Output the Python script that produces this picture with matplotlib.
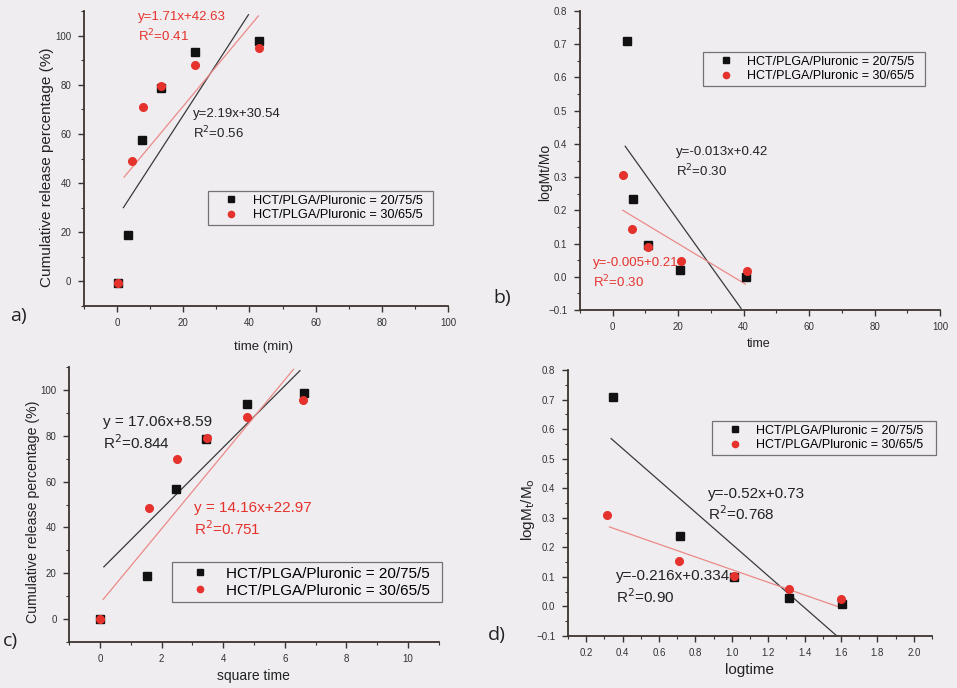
import matplotlib
matplotlib.use("Agg")
import matplotlib.pyplot as plt
from matplotlib.ticker import MultipleLocator
from matplotlib.lines import Line2D

W, H = 957, 688
BG = '#efedf0'
AX = '#3b3330'
BLK = '#111111'
RED = '#e5322c'
LRED = '#ec8a88'
LBLK = '#3a3a3a'

series_names = ['HCT/PLGA/Pluronic = 20/75/5', 'HCT/PLGA/Pluronic = 30/65/5']

# Panel a: release vs time
a_x_black = [0.3, 3.2, 7.6, 13.2, 23.6, 43.0]
a_y_black = [-0.5, 18.7, 57.6, 78.7, 93.2, 97.7]
a_x_red = [0.4, 4.4, 7.9, 13.2, 23.6, 43.0]
a_y_red = [-0.5, 48.9, 70.9, 79.5, 88.0, 94.8]
a_fit_black_x = [1.9, 39.7]
a_fit_black_y = [30.0, 108.5]
a_fit_red_x = [2.1, 42.7]
a_fit_red_y = [42.4, 108.0]

# Panel b: logMt/Mo vs time
b_x_black = [4.3, 6.3, 10.8, 20.6, 40.8]
b_y_black = [0.71, 0.233, 0.096, 0.021, -0.002]
b_x_red = [3.2, 5.8, 10.9, 20.8, 40.9]
b_y_red = [0.306, 0.145, 0.091, 0.048, 0.016]
b_fit_black_x = [3.8, 39.2]
b_fit_black_y = [0.393, -0.095]
b_fit_red_x = [3.1, 40.5]
b_fit_red_y = [0.200, -0.022]

# Panel c: release vs square time
c_x_black = [0.0, 1.52, 2.46, 3.44, 4.77, 6.62]
c_y_black = [0.0, 18.8, 56.6, 78.4, 93.7, 98.6]
c_x_red = [0.0, 1.60, 2.49, 3.46, 4.76, 6.60]
c_y_red = [0.0, 48.6, 69.9, 79.2, 88.3, 95.5]
c_fit_black_x = [0.13, 6.49]
c_fit_black_y = [22.8, 108.4]
c_fit_red_x = [0.11, 6.28]
c_fit_red_y = [8.6, 109.0]

# Panel d: logMt/Mo vs logtime
d_x_black = [0.346, 0.717, 1.011, 1.312, 1.605]
d_y_black = [0.707, 0.238, 0.100, 0.029, 0.009]
d_x_red = [0.313, 0.709, 1.011, 1.312, 1.602]
d_y_red = [0.308, 0.153, 0.104, 0.059, 0.026]
d_fit_black_x = [0.337, 1.574]
d_fit_black_y = [0.568, -0.098]
d_fit_red_x = [0.328, 1.58]
d_fit_red_y = [0.269, 0.0]

FONT = 'Liberation Sans'
plt.rcParams['font.family'] = [FONT, 'DejaVu Sans']

fig = plt.figure(figsize=(W / 100, H / 100), dpi=100, facecolor=BG)


def add_ax(left, top, right, bottom):
    return fig.add_axes([left / W, 1 - bottom / H, (right - left) / W, (bottom - top) / H])


def style(ax, xlim, ylim, xmaj, xmin, ymaj, ymin):
    ax.set_facecolor(BG)
    ax.patch.set_alpha(0)
    ax.set_xlim(*xlim)
    ax.set_ylim(*ylim)
    for s in ('top', 'right'):
        ax.spines[s].set_visible(False)
    for s in ('left', 'bottom'):
        ax.spines[s].set_color(AX)
        ax.spines[s].set_linewidth(1.3)
    ax.xaxis.set_major_locator(MultipleLocator(xmaj))
    ax.xaxis.set_minor_locator(MultipleLocator(xmin))
    ax.yaxis.set_major_locator(MultipleLocator(ymaj))
    ax.yaxis.set_minor_locator(MultipleLocator(ymin))
    ax.tick_params(which='major', direction='out', length=4, width=1, color=AX,
                   labelsize=7, labelcolor='#333333', pad=5)
    ax.tick_params(which='minor', direction='out', length=2, width=0.8, color=AX)


def scatter(ax, xb, yb, xr, yr):
    ax.plot(xb, yb, 's', color=BLK, ms=5.5, mec=BLK, zorder=3, clip_on=False)
    ax.plot(xr, yr, 'o', color=RED, ms=5.5, mec=RED, zorder=4, clip_on=False)


def legend(bbox_px, fs, ms=4.5):
    l, t, r, b = bbox_px
    handles = [Line2D([], [], ls='none', marker='s', color=BLK, ms=ms),
               Line2D([], [], ls='none', marker='o', color=RED, ms=ms)]
    lg = fig.legend(handles, series_names, loc='upper left',
                    bbox_to_anchor=(l / W, 1 - b / H, (r - l) / W, (b - t) / H),
                    bbox_transform=fig.transFigure, mode='expand',
                    fontsize=fs, frameon=True, fancybox=False, numpoints=1,
                    handlelength=3.0, handletextpad=0.25, borderpad=0.3,
                    labelspacing=0.2, borderaxespad=0, edgecolor='#555555')
    lg.get_frame().set_facecolor(BG)
    lg.get_frame().set_linewidth(0.9)
    return lg


def ftext(x, y, s, color='#222222', size=10, **kw):
    fig.text(x / W, 1 - y / H, s, color=color, fontsize=size, **kw)


# ---- Panel a ----
ax = add_ax(84, 11, 448, 306)
style(ax, (-10, 100), (-10, 110), 20, 10, 20, 10)
ax.plot(a_fit_black_x, a_fit_black_y, color=LBLK, lw=0.9)
ax.plot(a_fit_red_x, a_fit_red_y, color=LRED, lw=0.9)
scatter(ax, a_x_black, a_y_black, a_x_red, a_y_red)
legend((208, 191, 433, 229), 9.2)
ftext(138, 17, 'y=1.71x+42.63', color=RED, size=9.5, va='center')
ftext(138, 36, 'R$^2$=0.41', color=RED, size=9.5, va='center')
ftext(193, 114, 'y=2.19x+30.54', size=9.5, va='center')
ftext(193, 133, 'R$^2$=0.56', size=9.5, va='center')
ftext(263, 347, 'time (min)', size=9.5, ha='center', va='center')
ftext(47, 167, 'Cumulative release percentage (%)', size=11, ha='center', va='center', rotation=90)
ftext(18, 316, 'a)', size=14, ha='center', va='center', family='Open Sans')

# ---- Panel b ----
ax = add_ax(580, 11, 940, 310)
style(ax, (-10, 100), (-0.1, 0.8), 20, 10, 0.1, 0.05)
ax.plot(b_fit_black_x, b_fit_black_y, color=LBLK, lw=0.9)
ax.plot(b_fit_red_x, b_fit_red_y, color=LRED, lw=0.9)
scatter(ax, b_x_black, b_y_black, b_x_red, b_y_red)
legend((703, 52, 925, 88), 9.0)
ftext(676, 152, 'y=-0.013x+0.42', size=9.5, va='center')
ftext(676, 171, 'R$^2$=0.30', size=9.5, va='center')
ftext(593, 263, 'y=-0.005+0.21', color=RED, size=9.5, va='center')
ftext(593, 282, 'R$^2$=0.30', color=RED, size=9.5, va='center')
ftext(759, 344, 'time', size=9, ha='center', va='center')
ftext(545, 172, 'logMt/Mo', size=10, ha='center', va='center', rotation=90)
ftext(502, 298, 'b)', size=14, ha='center', va='center', family='Open Sans')

# ---- Panel c ----
ax = add_ax(69, 367, 439, 642)
style(ax, (-1, 11), (-10, 110), 2, 1, 20, 10)
ax.plot(c_fit_black_x, c_fit_black_y, color=LBLK, lw=0.9)
ax.plot(c_fit_red_x, c_fit_red_y, color=LRED, lw=0.9)
scatter(ax, c_x_black, c_y_black, c_x_red, c_y_red)
legend((172, 562, 442, 604), 11)
ftext(103, 422, 'y = 17.06x+8.59', size=11, va='center')
ftext(103, 443, 'R$^2$=0.844', size=11, va='center')
ftext(194, 508, 'y = 14.16x+22.97', color=RED, size=11, va='center')
ftext(194, 529, 'R$^2$=0.751', color=RED, size=11, va='center')
ftext(253, 676, 'square time', size=10, ha='center', va='center')
ftext(33, 512, 'Cumulative release percentage (%)', size=10.2, ha='center', va='center', rotation=90)
ftext(10, 641, 'c)', size=14, ha='center', va='center', family='Open Sans')

# ---- Panel d ----
ax = add_ax(568, 370, 932, 636)
style(ax, (0.1, 2.1), (-0.1, 0.8), 0.2, 0.1, 0.1, 0.05)
ax.plot(d_fit_black_x, d_fit_black_y, color=LBLK, lw=0.9)
ax.plot(d_fit_red_x, d_fit_red_y, color=LRED, lw=0.9)
scatter(ax, d_x_black, d_y_black, d_x_red, d_y_red)
legend((712, 421, 936, 454), 9)
ftext(708, 494, 'y=-0.52x+0.73', size=11, va='center')
ftext(708, 514, 'R$^2$=0.768', size=11, va='center')
ftext(616, 576, 'y=-0.216x+0.334', size=11, va='center')
ftext(616, 597, 'R$^2$=0.90', size=11, va='center')
ftext(750, 670, 'logtime', size=11, ha='center', va='center')
ftext(528, 510, 'logM$_{\\rm t}$/M$_{\\rm o}$', size=11, ha='center', va='center', rotation=90)
ftext(497, 635, 'd)', size=14, ha='center', va='center', family='Open Sans')

fig.savefig('out.png', dpi=100, facecolor=BG)
